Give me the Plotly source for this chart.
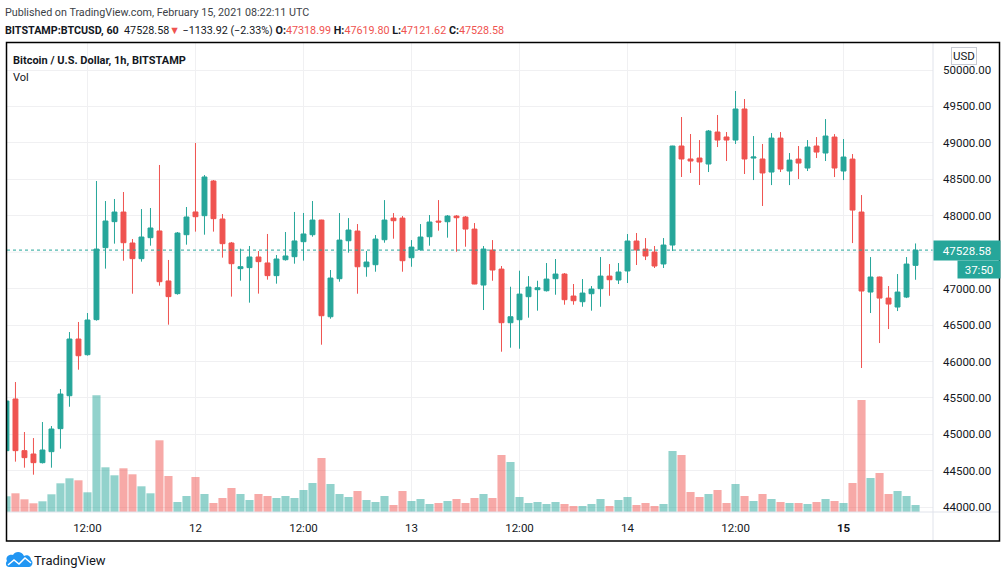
import pandas as pd
import plotly.graph_objects as go

# hourly BTCUSD candles, 2021-02-11 03:00 -> 2021-02-15 08:00
first_bar = "2021-02-11 03:00"

open_ = [44776, 45485, 44776, 44730, 44611, 44762, 45078, 45530, 46308, 46093,
         46574, 47562, 47919, 48051, 47626, 47411, 47699, 47791, 47105, 46931,
         47740, 48052, 48001, 48477, 47955, 47626, 47274, 47288, 47434, 47352,
         47178, 47397, 47438, 47644, 47740, 47941, 46614, 47136, 47657, 47790,
         47300, 47328, 47671, 47968, 47968, 47424, 47534, 47712, 47927, 47918,
         47996, 47982, 47817, 47049, 47529, 47268, 46532, 46573, 46889, 46985,
         46971, 47136, 47200, 46898, 46820, 46930, 46999, 47172, 47118, 47242,
         47653, 47543, 47502, 47338, 47598, 48957, 48779, 48792, 48710, 49149,
         49081, 49039, 49465, 48792, 48779, 48600, 49066, 48614, 48778, 48655,
         48957, 48861, 49080, 48614, 48778, 48051, 46953, 47159, 46870, 46747,
         46884, 47318.99]
high = [45480, 45718, 45032, 44949, 45169, 45114, 45622, 46404, 46542, 46665,
        48477, 48202, 48230, 48326, 47681, 48092, 48106, 48697, 47393, 47777,
        48120, 48999, 48559, 48490, 48024, 47640, 47548, 47585, 47516, 47750,
        47461, 47777, 48052, 48038, 48202, 47945, 47255, 48037, 47968, 47886,
        47516, 47735, 48215, 48037, 47996, 47666, 47886, 48010, 48215, 48010,
        48010, 47996, 47900, 47584, 47666, 47310, 47026, 47246, 47172, 47108,
        47351, 47406, 47214, 47063, 47131, 47035, 47433, 47337, 47351, 47749,
        47763, 47694, 47585, 47694, 48960, 49355, 49122, 49039, 49177, 49383,
        49149, 49712, 49602, 49094, 48985, 49135, 49149, 48861, 48957, 49039,
        49080, 49327, 49121, 49053, 48847, 48284, 47433, 47165, 47035, 47200,
        47433, 47619.80]
low = [44750, 44625, 44542, 44446, 44600, 44542, 44803, 45379, 45887, 46080,
       46560, 47274, 47617, 47383, 46930, 47370, 47589, 47040, 46505, 46917,
       47603, 47782, 47740, 47782, 47425, 46890, 47109, 46807, 46931, 47123,
       47068, 47384, 47342, 47384, 47712, 46230, 46587, 47095, 47493, 46930,
       47163, 47232, 47630, 47685, 47232, 47300, 47520, 47589, 47795, 47699,
       47506, 47575, 47060, 46706, 47108, 46134, 46189, 46175, 46601, 46697,
       46960, 46916, 46779, 46779, 46751, 46697, 46751, 46902, 47063, 47077,
       47324, 47392, 47283, 47283, 47516, 48532, 48587, 48422, 48600, 48943,
       48751, 48985, 48573, 48490, 48134, 48421, 48600, 48421, 48504, 48614,
       48792, 48751, 48531, 48490, 47625, 45910, 46665, 46253, 46445, 46692,
       46870, 47121.62]
close = [45457, 44776, 44680, 44611, 44785, 45073, 45553, 46308, 46079, 46569,
         47543, 47928, 48051, 47630, 47411, 47708, 47832, 47095, 46890, 47763,
         47983, 47987, 48532, 47960, 47617, 47342, 47301, 47434, 47370, 47178,
         47406, 47448, 47654, 47750, 47941, 46628, 47145, 47666, 47804, 47300,
         47365, 47680, 47941, 47932, 47383, 47570, 47708, 47914, 47914, 47996,
         47973, 47817, 47063, 47543, 47255, 46532, 46614, 46925, 47021, 47012,
         47131, 47200, 46848, 46834, 46939, 46994, 47172, 47122, 47228, 47653,
         47530, 47447, 47310, 47598, 48957, 48779, 48751, 48738, 49163, 49039,
         49039, 49465, 48779, 48806, 48587, 49066, 48641, 48764, 48723, 48943,
         48874, 49094, 48655, 48806, 48078, 46967, 47159, 46870, 46788, 46953,
         47337, 47528.58]
volume = [15.7, 18.7, 12.7, 8.7, 10.7, 17.7, 28.7, 33.7, 31.7, 19.7,
          116.7, 44.7, 36.7, 43.7, 37.7, 25.7, 18.7, 71.7, 36, 10,
          16, 35, 18, 9, 14, 24, 18, 12, 18, 16,
          14, 16, 14, 22, 29, 54, 28, 18, 15, 21,
          12, 10, 16, 7, 21, 11, 13, 8, 9, 11,
          13, 9, 14, 18, 14, 57, 50, 15, 9, 10,
          8, 10, 8, 6, 6, 8, 13, 6, 12, 15,
          7, 9, 6, 8, 61, 57, 20, 15, 18, 22,
          9, 28, 16, 11, 18, 13, 10, 9, 9, 8,
          10, 13, 11, 9, 29, 112, 34, 39, 18, 21,
          16, 7]

tick_times = ["2021-02-11 12:00", "2021-02-12 00:00", "2021-02-12 12:00", "2021-02-13 00:00",
              "2021-02-13 12:00", "2021-02-14 00:00", "2021-02-14 12:00", "2021-02-15 00:00"]
tick_text = ["12:00", "12", "12:00", "13", "12:00", "14", "12:00", "<b>15</b>"]
# 47500 sits under the last-price badge
price_ticks = [44000, 44500, 45000, 45500, 46000, 46500, 47000, 48000, 48500, 49000, 49500, 50000]

UP = "#26a69a"
DOWN = "#ef5350"
FONT = "Roboto, Arial, sans-serif"
TEXT = "#131722"

times = pd.date_range(first_bar, periods=len(close), freq="h")
vol_colors = ["rgba(38,166,154,0.5)" if c >= o else "rgba(239,83,80,0.5)"
              for o, c in zip(open_, close)]

# plot area in pixels
L, R, T, B = 7, 933, 43, 512
W, H = 1006, 578


def px(x):
    return (x - L) / (R - L)


def py(y):
    return (B - y) / (B - T)


fig = go.Figure()
fig.add_trace(go.Candlestick(
    x=times, open=open_, high=high, low=low, close=close,
    increasing=dict(line=dict(color=UP, width=1), fillcolor=UP),
    decreasing=dict(line=dict(color=DOWN, width=1), fillcolor=DOWN),
    whiskerwidth=0, hoverinfo="skip", showlegend=False, yaxis="y",
))
fig.add_trace(go.Bar(
    x=times, y=volume, marker=dict(color=vol_colors, line=dict(width=0)),
    hoverinfo="skip", showlegend=False, yaxis="y2",
))

t0 = pd.Timestamp(first_bar)
fig.update_layout(
    width=W, height=H, autosize=False,
    margin=dict(l=L, r=W - R, t=T, b=H - B),
    paper_bgcolor="white", plot_bgcolor="white",
    boxgap=0.22, bargap=0.1,
    font=dict(family=FONT, color=TEXT, size=11.5),
    xaxis=dict(
        range=[t0 + pd.Timedelta(hours=0.06), t0 + pd.Timedelta(hours=102.94)],
        tickvals=tick_times, ticktext=tick_text,
        showgrid=True, gridcolor="#f0f0f2", gridwidth=1,
        zeroline=False, showline=False, ticks="", ticklabelstandoff=7,
        rangeslider=dict(visible=False), tickfont=dict(size=11.5),
    ),
    yaxis=dict(
        side="right", range=[43934, 50371], tickvals=price_ticks, tickformat=".2f",
        showgrid=True, gridcolor="#f0f0f2", gridwidth=1,
        zeroline=False, showline=False, ticks="", ticklabelstandoff=9,
        tickfont=dict(size=11.5),
    ),
    yaxis2=dict(overlaying="y", range=[0, B - T], visible=False, showgrid=False),
)

shapes = [
    # 47500 grid line (its label is hidden by the badge)
    dict(type="line", xref="paper", yref="y", x0=0, x1=1, y0=47500, y1=47500,
         line=dict(color="#f0f0f2", width=1), layer="below"),
    # last price line
    dict(type="line", xref="paper", yref="y", x0=0, x1=1, y0=close[-1], y1=close[-1],
         line=dict(color=UP, width=1, dash="dot")),
    # axis separators
    dict(type="line", xref="paper", yref="paper", x0=1, x1=1, y0=py(541), y1=1,
         line=dict(color="#e0e3eb", width=1)),
    dict(type="line", xref="paper", yref="paper", x0=0, x1=px(999), y0=0, y1=0,
         line=dict(color="#e0e3eb", width=1)),
    # outer frame
    dict(type="rect", xref="paper", yref="paper", x0=px(6.5), x1=px(999.5), y0=py(541), y1=py(42.5),
         line=dict(color="black", width=1.5)),
]

# TradingView logo (cloud + zigzag)
cloud = [("M", 9, 567), ("L", 29, 567), ("C", 32, 567, 34, 562, 31, 560),
         ("C", 31, 556, 27, 554, 24, 556), ("C", 22, 551, 15, 551, 13, 555),
         ("C", 9, 554, 5, 557, 7, 561), ("C", 5, 563, 6, 567, 9, 567)]


def to_path(cmds, close_path=True):
    parts = []
    for cmd in cmds:
        nums = cmd[1:]
        pts = " ".join(f"{px(nums[i]):.5f},{py(nums[i + 1]):.5f}" for i in range(0, len(nums), 2))
        parts.append(cmd[0] + pts)
    return " ".join(parts) + (" Z" if close_path else "")


shapes.append(dict(type="path", xref="paper", yref="paper", path=to_path(cloud),
                   fillcolor="#2196f3", line=dict(width=0)))
zig = [("M", 8, 565), ("L", 14, 560), ("L", 19, 564), ("L", 25, 558), ("L", 31, 563)]
shapes.append(dict(type="path", xref="paper", yref="paper", path=to_path(zig, False),
                   line=dict(color="white", width=1.5)))
fig.update_layout(shapes=shapes)

red = f"<span style='color:{DOWN}'>"
header2 = (f"<b>BITSTAMP:BTCUSD, 60</b>  {close[-1]:.2f}{red}▼</span> −1133.92 (−2.33%) "
           f"<b>O:</b>{red}{open_[-1]:.2f}</span> <b>H:</b>{red}{high[-1]:.2f}</span> "
           f"<b>L:</b>{red}{low[-1]:.2f}</span> <b>C:</b>{red}{close[-1]:.2f}</span>")


def label(text, x, y, **kw):
    base = dict(xref="paper", yref="paper", x=px(x), y=py(y), text=text,
                showarrow=False, xanchor="left", yanchor="middle")
    base.update(kw)
    fig.add_annotation(**base)


label("Published on TradingView.com, February 15, 2021 08:22:11 UTC", 3, 13,
      font=dict(size=10.75, color="#3c3f47"))
label(header2, 3, 30, font=dict(size=10.75, color=TEXT))
label("<b>Bitcoin / U.S. Dollar, 1h, BITSTAMP</b>", 11, 60, font=dict(size=11, color=TEXT))
label("Vol", 11, 77, font=dict(size=11, color=TEXT))
label("TradingView", 32, 560, font=dict(size=13, color=TEXT))

# price scale badges
fig.add_annotation(xref="paper", yref="y", x=1, y=close[-1], xanchor="left", yanchor="middle",
                   text=f"{close[-1]:.2f}", showarrow=False, width=64, height=17,
                   bgcolor=UP, font=dict(size=11.5, color="white"), align="center")
fig.add_annotation(xref="paper", yref="y", x=px(957), y=close[-1], xanchor="left", yanchor="middle",
                   yshift=-19, text="37:50", showarrow=False, width=40, height=15,
                   bgcolor=UP, font=dict(size=11.5, color="white"), align="center")
label("USD", 951, 56, bgcolor="white", bordercolor="#c9ccd4", borderwidth=1, borderpad=1,
      font=dict(size=11.5, color=TEXT))

fig.write_html("out.html", config=dict(displayModeBar=False, staticPlot=True),
               post_script="document.body.style.margin='0';")
